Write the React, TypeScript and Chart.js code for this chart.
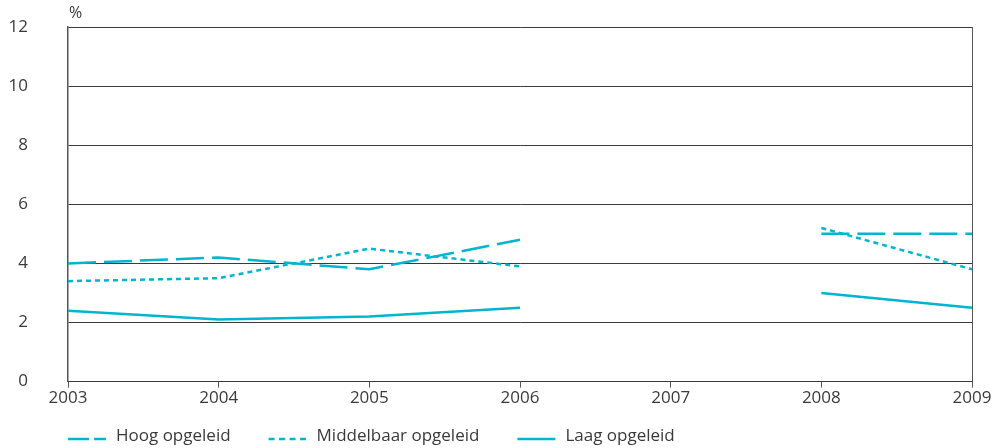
import React, { useEffect, useRef } from 'react';
import { Chart, registerables } from 'chart.js';

Chart.register(...registerables);

const years = ['2003', '2004', '2005', '2006', '2007', '2008', '2009'];
const hoog = [4.0, 4.2, 3.8, 4.8, null, 5.0, 5.0];
const middelbaar = [3.4, 3.5, 4.5, 3.9, null, 5.2, 3.8];
const laag = [2.4, 2.1, 2.2, 2.5, null, 3.0, 2.5];
const seriesLabels = ['Hoog opgeleid', 'Middelbaar opgeleid', 'Laag opgeleid'];
const yMin = 0;
const yMax = 12;
const yStep = 2;
const yUnit = '%';

const CYAN = '#00b5cd';
const TEXT = '#3a3a3a';
const GRID = '#3a3a3a';
const AXIS = '#555555';
const FONT = '"Open Sans", "Noto Sans", sans-serif';

const extrasPlugin = {
  id: 'extras',
  afterDraw(chart: any) {
    const ctx = chart.ctx;
    const area = chart.chartArea;
    ctx.save();
    // unit label
    ctx.fillStyle = TEXT;
    ctx.font = `16px ${FONT}`;
    ctx.textAlign = 'left';
    ctx.textBaseline = 'alphabetic';
    ctx.fillText(yUnit, area.left + 1, area.top - 9);
    // legend
    ctx.font = `17px ${FONT}`;
    ctx.textBaseline = 'middle';
    const textY = chart.height - 12;
    const lineY = textY + 3;
    let x = area.left;
    chart.data.datasets.forEach((ds: any) => {
      ctx.strokeStyle = ds.borderColor;
      ctx.lineWidth = ds.borderWidth;
      ctx.lineCap = 'butt';
      ctx.setLineDash(ds.legendDash || []);
      ctx.beginPath();
      ctx.moveTo(x, lineY);
      ctx.lineTo(x + 38, lineY);
      ctx.stroke();
      ctx.setLineDash([]);
      const tx = x + 48;
      ctx.fillStyle = TEXT;
      ctx.fillText(ds.label, tx, textY);
      x = tx + ctx.measureText(ds.label).width + 38;
    });
    ctx.restore();
  },
};

export default function App() {
  const ref = useRef<HTMLCanvasElement | null>(null);

  useEffect(() => {
    if (!ref.current) return;
    const chart = new Chart(ref.current, {
      type: 'line',
      data: {
        labels: years,
        datasets: [
          {
            label: seriesLabels[0],
            data: hoog,
            borderColor: CYAN,
            borderWidth: 2.5,
            borderDash: [28, 8],
            pointRadius: 0,
            spanGaps: false,
            tension: 0,
            legendDash: [21, 5],
          } as any,
          {
            label: seriesLabels[1],
            data: middelbaar,
            borderColor: CYAN,
            borderWidth: 2.5,
            borderDash: [5, 4],
            pointRadius: 0,
            spanGaps: false,
            tension: 0,
            legendDash: [6, 4.5],
          } as any,
          {
            label: seriesLabels[2],
            data: laag,
            borderColor: CYAN,
            borderWidth: 2.5,
            pointRadius: 0,
            spanGaps: false,
            tension: 0,
            legendDash: [],
          } as any,
        ],
      },
      options: {
        animation: false,
        responsive: false,
        maintainAspectRatio: false,
        layout: { padding: { left: 0, right: 29, top: 27, bottom: 40 } },
        plugins: {
          legend: { display: false },
          tooltip: { enabled: false },
        },
        scales: {
          x: {
            type: 'category',
            offset: false,
            grid: {
              display: true,
              drawOnChartArea: true,
              color: (c: any) => (c.index === years.length - 1 ? AXIS : 'rgba(0,0,0,0)'),
              tickColor: AXIS,
              tickLength: 6,
              lineWidth: 1,
            },
            border: { display: true, color: GRID, width: 1 },
            ticks: {
              color: TEXT,
              font: { family: FONT, size: 17 },
              padding: 0,
              maxRotation: 0,
              autoSkip: false,
            },
          },
          y: {
            min: yMin,
            max: yMax,
            afterFit: (scale: any) => {
              scale.width = 68;
            },
            grid: {
              color: GRID,
              lineWidth: 1,
              drawTicks: true,
              tickLength: 40,
              tickColor: 'rgba(0,0,0,0)',
            },
            border: { display: true, color: AXIS, width: 1.5 },
            ticks: {
              stepSize: yStep,
              color: TEXT,
              font: { family: FONT, size: 17 },
              padding: 0,
            },
          },
        },
      } as any,
      plugins: [extrasPlugin],
    });
    return () => chart.destroy();
  }, []);

  return (
    <div style={{ position: 'fixed', left: 0, top: 0, width: 1001, height: 448, background: '#fff' }}>
      <canvas ref={ref} width={1001} height={448} style={{ width: 1001, height: 448, display: 'block' }} />
    </div>
  );
}
